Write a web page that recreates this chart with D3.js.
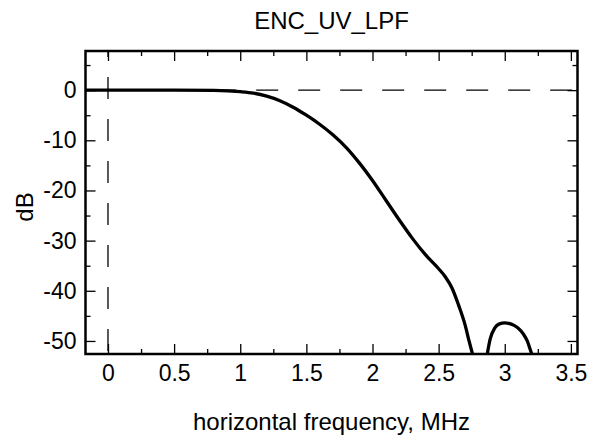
<!DOCTYPE html>
<meta charset="utf-8">
<style>
body { margin: 0; background: #fff; }
text { font-family: "Liberation Sans", Arial, sans-serif; fill: #000; }
.tick line { stroke: #000; stroke-width: 1.3px; }
</style>
<svg width="592" height="443"></svg>
<script src="https://cdn.jsdelivr.net/npm/d3@7"></script>
<script>

// chart values
var title = "ENC_UV_LPF";
var xLabel = "horizontal frequency, MHz";
var yLabel = "dB";

// main lobe, falls through the bottom of the plot
var freqMain = [-0.17, 0, 0.5, 0.8, 1.0, 1.1, 1.2, 1.3, 1.4, 1.5, 1.6, 1.7, 1.8, 1.9, 2.0,
                2.1, 2.2, 2.3, 2.4, 2.5, 2.55, 2.6, 2.65, 2.7, 2.73, 2.765];
var dbMain   = [0, 0, 0, -0.05, -0.3, -0.6, -1.2, -2.1, -3.4, -5.0, -6.8, -8.9, -11.4, -14.5, -18.0,
                -21.9, -25.8, -29.5, -32.8, -35.6, -37.2, -39.4, -42.8, -46.8, -50.0, -53.5];

// side lobe
var freqSide = [2.862, 2.89, 2.925, 2.96, 3.0, 3.03, 3.07, 3.1, 3.14, 3.17, 3.19, 3.215];
var dbSide   = [-53.5, -49.6, -47.4, -46.6, -46.4, -46.5, -46.9, -47.4, -48.6, -50.0, -51.5, -53.5];

var xMajor = [0, 0.5, 1, 1.5, 2, 2.5, 3, 3.5];
var xMinor = [0.25, 0.75, 1.25, 1.75, 2.25, 2.75, 3.25];
var yMajor = [-50, -40, -30, -20, -10, 0];
var yMinor = [-45, -35, -25, -15, -5, 5];

var svg = d3.select("svg");

// plot frame edges (pixels)
var pLeft = 85.5, pRight = 577.5, pTop = 51, pBottom = 354;

var x = d3.scaleLinear().domain([-0.17, 3.55]).range([pLeft, pRight]);
var y = d3.scaleLinear().domain([-52.6, 7.8]).range([pBottom, pTop]);

svg.append("defs").append("clipPath").attr("id", "plotclip")
  .append("rect")
    .attr("x", pLeft).attr("y", pTop)
    .attr("width", pRight - pLeft).attr("height", pBottom - pTop);

// reference lines at 0 dB and 0 MHz
svg.append("line")
    .attr("x1", pLeft).attr("x2", pRight)
    .attr("y1", y(0)).attr("y2", y(0))
    .attr("stroke", "#000").attr("stroke-width", 1.3)
    .attr("stroke-dasharray", "22,20").attr("stroke-dashoffset", 39.3);

svg.append("line")
    .attr("x1", x(0)).attr("x2", x(0))
    .attr("y1", pTop).attr("y2", pBottom)
    .attr("stroke", "#000").attr("stroke-width", 1.3)
    .attr("stroke-dasharray", "22,20").attr("stroke-dashoffset", 16);

// axes: ticks point inward on all four sides
function drawAxis(axis, tx, ty, labels) {
  var g = svg.append("g")
      .attr("transform", "translate(" + tx + "," + ty + ")")
      .call(axis);
  g.select(".domain").remove();
  g.attr("font-family", null).attr("font-size", null);
  g.selectAll("text").style("font-size", "23px");
  if (!labels) g.selectAll("text").remove();
  return g;
}

var fmt = function(d) { return String(d); };

drawAxis(d3.axisBottom(x).tickValues(xMajor).tickFormat(fmt).tickSizeInner(-10).tickPadding(11), 0, pBottom, true);
drawAxis(d3.axisBottom(x).tickValues(xMinor).tickSizeInner(-5), 0, pBottom, false);
drawAxis(d3.axisTop(x).tickValues(xMajor).tickSizeInner(-10), 0, pTop, false);
drawAxis(d3.axisTop(x).tickValues(xMinor).tickSizeInner(-5), 0, pTop, false);

drawAxis(d3.axisLeft(y).tickValues(yMajor).tickFormat(fmt).tickSizeInner(-10).tickPadding(9), pLeft, 0, true);
drawAxis(d3.axisLeft(y).tickValues(yMinor).tickSizeInner(-5), pLeft, 0, false);
drawAxis(d3.axisRight(y).tickValues(yMajor).tickSizeInner(-10), pRight, 0, false);
drawAxis(d3.axisRight(y).tickValues(yMinor).tickSizeInner(-5), pRight, 0, false);

// response curve
var line = d3.line()
    .x(function(d) { return x(d[0]); })
    .y(function(d) { return y(d[1]); })
    .curve(d3.curveMonotoneX);

var plot = svg.append("g").attr("clip-path", "url(#plotclip)");

[d3.zip(freqMain, dbMain), d3.zip(freqSide, dbSide)].forEach(function(pts) {
  plot.append("path")
      .datum(pts)
      .attr("d", line)
      .attr("fill", "none")
      .attr("stroke", "#000")
      .attr("stroke-width", 3.3)
      .attr("stroke-linejoin", "round");
});

// frame
svg.append("rect")
    .attr("x", pLeft).attr("y", pTop)
    .attr("width", pRight - pLeft).attr("height", pBottom - pTop)
    .attr("fill", "none").attr("stroke", "#000").attr("stroke-width", 2.5);

// titles
svg.append("text")
    .attr("x", (pLeft + pRight) / 2).attr("y", 29)
    .attr("text-anchor", "middle")
    .style("font-size", "24px")
    .text(title);

svg.append("text")
    .attr("x", (pLeft + pRight) / 2).attr("y", 430)
    .attr("text-anchor", "middle")
    .style("font-size", "24px")
    .text(xLabel);

svg.append("text")
    .attr("transform", "translate(33,207) rotate(-90)")
    .attr("text-anchor", "middle")
    .style("font-size", "24px")
    .text(yLabel);

</script>
